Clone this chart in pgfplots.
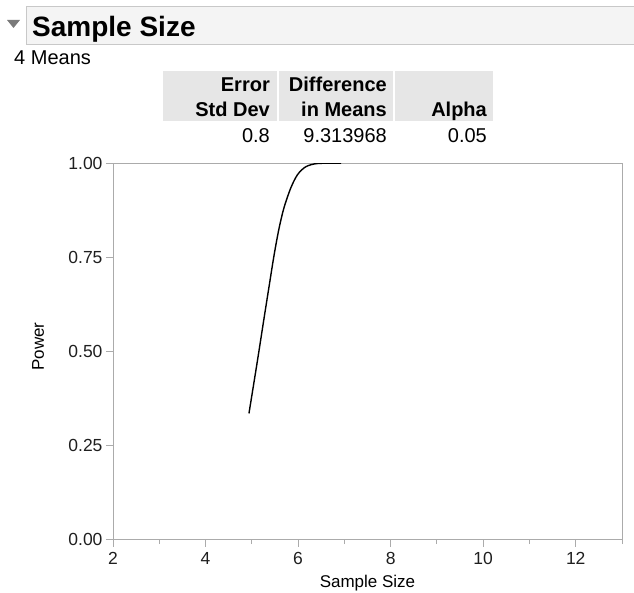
\documentclass[border=0pt]{standalone}
\usepackage{pgfplots}
\pgfplotsset{compat=1.18}
\usepackage{fontspec}
\setmainfont{Liberation Sans}
\definecolor{axgray}{HTML}{ABABAB}
\definecolor{titlefill}{HTML}{F4F4F4}
\definecolor{titleborder}{HTML}{C8C8C8}
\definecolor{cellfill}{HTML}{E6E6E6}
\definecolor{tri}{HTML}{7A7A7A}
\begin{document}
\begin{tikzpicture}
\useasboundingbox (0pt,0pt) rectangle (634pt,592pt);
% title bar
\fill[titlefill] (26pt,547pt) rectangle (634pt,585pt);
\draw[titleborder, line width=1pt] (640pt,547pt) -- (26pt,547pt) -- (26pt,585pt) -- (640pt,585pt);
\fill[tri] (7pt,572pt) -- (20pt,572pt) -- (13.5pt,564pt) -- cycle;
\node[anchor=base west, inner sep=0pt, font=\fontsize{28}{32}\selectfont\bfseries] at (32pt,555pt) {Sample Size};
\node[anchor=base west, inner sep=0pt, font=\fontsize{20}{24}\selectfont] at (14pt,527pt) {4 Means};
% table header cells
\fill[cellfill] (163pt,471pt) rectangle (277pt,521pt);
\fill[cellfill] (279pt,471pt) rectangle (393pt,521pt);
\fill[cellfill] (395pt,471pt) rectangle (493pt,521pt);
\begin{scope}[every node/.style={anchor=base east, inner sep=0pt}]
\node[font=\fontsize{20}{24}\selectfont\bfseries] at (270pt,500pt) {Error};
\node[font=\fontsize{20}{24}\selectfont\bfseries] at (270pt,475pt) {Std Dev};
\node[font=\fontsize{20}{24}\selectfont\bfseries] at (387pt,500pt) {Difference};
\node[font=\fontsize{20}{24}\selectfont\bfseries] at (387pt,475pt) {in Means};
\node[font=\fontsize{20}{24}\selectfont\bfseries] at (487pt,475pt) {Alpha};
\node[font=\fontsize{20}{24}\selectfont] at (270pt,449pt) {0.8};
\node[font=\fontsize{20}{24}\selectfont] at (387pt,449pt) {9.313968};
\node[font=\fontsize{20}{24}\selectfont] at (487pt,449pt) {0.05};
\end{scope}
\begin{axis}[
  at={(113pt,52.5pt)}, anchor=south west,
  width=509pt, height=376.2pt, scale only axis,
  xmin=2, xmax=13, ymin=0, ymax=1,
  xtick={2,4,6,8,10,12},
  minor xtick={3,5,7,9,11,13},
  ytick={0,0.25,0.5,0.75,1},
  yticklabel style={/pgf/number format/.cd, fixed, fixed zerofill, precision=2},
  /pgf/number format/assume math mode=true,
  ticklabel style={font=\fontsize{17.5}{20}\selectfont, text=black!88},
  xticklabel style={yshift=-2pt},
  tick align=outside,
  major tick length=7pt, minor tick length=4.5pt,
  every tick/.style={axgray, line width=1pt},
  axis line style={axgray, line width=1pt},
  xtick pos=bottom, ytick pos=left,
  xlabel={Sample Size}, ylabel={Power},
  label style={font=\fontsize{17}{20}\selectfont},
  xlabel style={at={(axis description cs:0.5,0)}, anchor=base, yshift=-47.5pt},
  ylabel style={at={(axis description cs:-0.1473,0.513)}, anchor=center},
]
\addplot[black, line width=1.4pt, smooth, tension=0.5] coordinates {
(4.938,0.335) (5.121,0.475) (5.264,0.588) (5.372,0.672) (5.481,0.756)
(5.590,0.828) (5.698,0.883) (5.844,0.935) (5.989,0.970) (6.169,0.991)
(6.423,0.9995) (6.930,1.000)
};
\end{axis}
\end{tikzpicture}
\end{document}
